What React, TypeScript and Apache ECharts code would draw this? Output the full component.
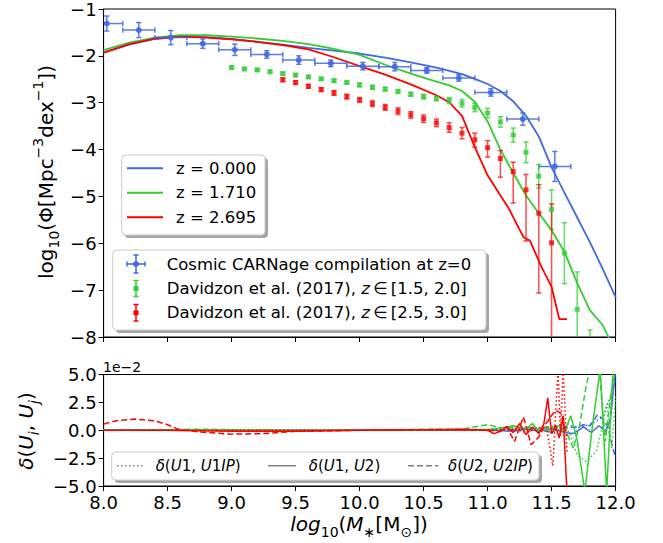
import React, { useEffect, useRef } from "react";
import * as echarts from "echarts";

const BLUE = "#4169E1";
const GREEN = "#32CD32";
const RED = "#FF0000";
const FONT = "DejaVu Sans";

// ---- model curves (top panel) ----
const blueLineX = [8.0, 8.2, 8.4, 8.6, 8.8, 9.0, 9.2, 9.4, 9.6, 9.8, 10.0, 10.2, 10.4, 10.6, 10.8, 10.9, 11.0, 11.1, 11.2, 11.3, 11.4, 11.5, 11.6, 11.7, 11.8, 11.9, 12.0];
const blueLineY = [-1.93, -1.76, -1.64, -1.59, -1.6, -1.64, -1.7, -1.76, -1.83, -1.89, -1.95, -2.04, -2.14, -2.25, -2.39, -2.49, -2.6, -2.75, -2.97, -3.28, -3.72, -4.38, -4.92, -5.45, -5.98, -6.55, -7.15];

const greenLineX = [8.0, 8.2, 8.4, 8.6, 8.8, 9.0, 9.2, 9.4, 9.6, 9.8, 10.0, 10.2, 10.4, 10.6, 10.7, 10.8, 10.9, 11.0, 11.1, 11.2, 11.3, 11.4, 11.5, 11.6, 11.7, 11.8, 11.9, 11.97];
const greenLineY = [-1.88, -1.72, -1.61, -1.56, -1.56, -1.59, -1.63, -1.68, -1.75, -1.85, -1.98, -2.19, -2.38, -2.55, -2.63, -2.75, -2.98, -3.4, -4.0, -4.5, -4.98, -5.36, -5.72, -6.18, -6.85, -7.43, -7.75, -8.15];

const redLineX = [8.0, 8.2, 8.4, 8.6, 8.8, 9.0, 9.2, 9.4, 9.6, 9.8, 10.0, 10.2, 10.4, 10.6, 10.7, 10.8, 10.9, 11.0, 11.1, 11.16, 11.22, 11.28, 11.33, 11.42, 11.5, 11.56, 11.62];
const redLineY = [-1.93, -1.75, -1.63, -1.59, -1.61, -1.65, -1.7, -1.77, -1.86, -2.03, -2.22, -2.4, -2.61, -2.84, -2.99, -3.28, -3.95, -4.55, -4.98, -5.23, -5.55, -5.87, -5.94, -6.5, -6.93, -7.62, -7.62];

// ---- observations ----
const carnageX = [8.025, 8.275, 8.525, 8.775, 9.025, 9.275, 9.525, 9.775, 10.025, 10.275, 10.525, 10.775, 11.025, 11.275, 11.525];
const carnageY = [-1.31, -1.45, -1.61, -1.74, -1.87, -1.97, -2.09, -2.16, -2.22, -2.23, -2.31, -2.47, -2.78, -3.35, -4.36];
const carnageYErr = [0.16, 0.16, 0.15, 0.1, 0.12, 0.08, 0.09, 0.07, 0.08, 0.09, 0.06, 0.07, 0.08, 0.13, 0.32];
const carnageXErr = 0.125;

const davG_X = [9.0, 9.1, 9.2, 9.3, 9.4, 9.5, 9.6, 9.7, 9.8, 9.9, 10.0, 10.1, 10.2, 10.3, 10.4, 10.5, 10.6, 10.7, 10.8, 10.9, 11.0, 11.1, 11.2, 11.3, 11.4, 11.5, 11.6, 11.7, 11.8];
const davG_Y = [-2.25, -2.28, -2.3, -2.34, -2.38, -2.41, -2.45, -2.49, -2.53, -2.57, -2.62, -2.67, -2.71, -2.76, -2.82, -2.87, -2.91, -2.95, -3.01, -3.1, -3.22, -3.41, -3.69, -4.06, -4.57, -5.28, -6.21, -7.41, -8.7];
const davG_Err = [0.03, 0.03, 0.03, 0.03, 0.03, 0.03, 0.03, 0.03, 0.03, 0.03, 0.04, 0.04, 0.04, 0.04, 0.04, 0.05, 0.05, 0.06, 0.08, 0.09, 0.1, 0.11, 0.15, 0.22, 0.25, 0.42, 0.65, 0.8, 0.85];

const davR_X = [9.4, 9.5, 9.6, 9.7, 9.8, 9.9, 10.0, 10.1, 10.2, 10.3, 10.4, 10.5, 10.6, 10.7, 10.8, 10.9, 11.0, 11.1, 11.2, 11.3, 11.4, 11.5];
const davR_Y = [-2.51, -2.57, -2.65, -2.72, -2.79, -2.87, -2.94, -3.02, -3.1, -3.18, -3.26, -3.34, -3.43, -3.53, -3.65, -3.79, -3.96, -4.19, -4.47, -4.86, -5.36, -5.99];
const davR_Lo = [-2.55, -2.61, -2.69, -2.76, -2.84, -2.92, -2.99, -3.08, -3.16, -3.25, -3.33, -3.42, -3.51, -3.63, -3.77, -3.95, -4.16, -4.59, -5.14, -5.95, -7.06, -9.0];
const davR_Hi = [-2.47, -2.53, -2.61, -2.68, -2.74, -2.82, -2.89, -2.96, -3.04, -3.11, -3.19, -3.26, -3.35, -3.43, -3.53, -3.65, -3.81, -4.02, -4.27, -4.53, -4.75, -5.16];

// ---- residuals (bottom panel, units of 1e-2) ----
const resBlueDotted = [[8, 0], [9, 0], [10, 0], [11, 0], [11.3, 0.05], [11.5, 0.3], [11.6, 0.6], [11.7, 0.2], [11.8, 0.5], [11.9, 1.2], [11.96, 3.0], [12, 4.5]];
const resBlueSolid = [[8, 0], [9, 0], [10, 0], [11, 0.05], [11.2, -0.1], [11.3, 0.1], [11.4, -0.1], [11.5, 0.15], [11.6, -0.2], [11.67, -0.3], [11.75, 0.3], [11.81, -0.2], [11.87, 0.4], [11.92, -0.1], [11.96, 1.0], [12.0, 5.5]];
const resBlueDashed = [[8, 0], [9, 0], [10, 0], [11, 0], [11.3, 0.1], [11.5, -0.15], [11.6, 0.2], [11.7, 0.3], [11.75, 0.5], [11.8, 0.4], [11.86, 1.4], [11.9, 1.0], [11.94, 0.3], [11.97, -1.2], [12, -2.5]];

const resGreenDotted = [[8, 0], [9, -0.05], [10, 0], [11, 0.1], [11.3, 0.2], [11.5, 0.2], [11.6, 0.5], [11.65, -0.5], [11.7, -2.2], [11.77, -2.8], [11.85, -1.9], [11.9, 0.5], [11.93, 2.4], [11.97, -1.6], [12, 3]];
const resGreenSolid = [[8, 0], [9, 0], [10, 0], [11, 0.05], [11.1, 0.2], [11.2, 0.4], [11.3, 0.1], [11.35, 0.6], [11.4, -0.2], [11.45, 0.3], [11.5, -0.3], [11.55, 0.4], [11.6, -0.2], [11.65, 1.3], [11.7, -0.9], [11.76, -5.5], [11.82, 0.5], [11.88, 5.5], [11.93, -5.5], [11.98, 5.5]];
const resGreenDashed = [[8, 0], [8.5, 0.05], [8.75, 0.1], [9, 0.05], [9.5, -0.05], [10, 0], [10.5, 0.1], [10.8, 0.1], [10.95, 0.4], [11.0, 0.5], [11.05, 0.35], [11.1, 0.2], [11.3, 0.3], [11.4, 0.1], [11.5, 0.4], [11.55, 0.2], [11.62, -0.3], [11.67, -1.6], [11.72, 0.5], [11.77, 4.0], [11.81, 5.8], [11.87, 5.8], [11.92, -1.0], [11.96, 3], [12, 5.5]];

const resRedDotted = [[8, 0], [9, 0], [10, 0], [11, 0], [11.2, 0.1], [11.3, -0.2], [11.4, 0.2], [11.46, 0.3], [11.51, -3.2], [11.55, 5.5], [11.57, -0.5], [11.59, 5.5], [11.62, -2]];
const resRedSolid = [[8, 0], [8.5, 0], [8.75, -0.05], [9, -0.1], [9.5, -0.1], [10, 0], [10.5, 0.05], [10.8, 0.1], [11.0, 0], [11.05, -0.3], [11.1, -0.1], [11.15, 0.3], [11.2, -0.2], [11.25, 0.6], [11.3, -0.4], [11.35, 0.3], [11.4, -0.3], [11.44, 0.6], [11.47, 2.9], [11.5, -0.3], [11.53, 0.4], [11.56, -0.7], [11.59, 1.3], [11.62, -5.5]];
const resRedDashed = [[8, 0.55], [8.1, 0.85], [8.25, 1.0], [8.4, 0.85], [8.5, 0.5], [8.58, 0.1], [8.75, -0.15], [9, -0.35], [9.25, -0.3], [9.5, -0.1], [10, 0], [10.5, 0.05], [11.0, 0], [11.1, -0.1], [11.15, 0.3], [11.21, -1.0], [11.28, 1.2], [11.34, -1.3], [11.4, -0.6], [11.45, 0.5], [11.53, 1.8], [11.58, 1.5], [11.62, -0.5]];

const xTicks = { min: 8, max: 12, interval: 0.5 };

function errRenderer(color: string, withX: boolean) {
  return (params: any, api: any) => {
    const cs = params.coordSys;
    const top = cs.y, bot = cs.y + cs.height, left = cs.x, right = cs.x + cs.width;
    const cy = (v: number) => Math.max(top, Math.min(bot, v));
    const cx = (v: number) => Math.max(left, Math.min(right, v));
    const x = api.value(0);
    const lo = api.value(2), hi = api.value(3);
    const pLo = api.coord([x, lo]);
    const pHi = api.coord([x, hi]);
    const px = pLo[0];
    const style = { stroke: color, lineWidth: 1.5 };
    const ch: any[] = [];
    const y1 = cy(pHi[1]), y2 = cy(pLo[1]);
    if (y2 > y1) ch.push({ type: "line", shape: { x1: px, y1, x2: px, y2 }, style });
    const cap = 2.6;
    if (pHi[1] >= top && pHi[1] <= bot) ch.push({ type: "line", shape: { x1: px - cap, y1: pHi[1], x2: px + cap, y2: pHi[1] }, style });
    if (pLo[1] >= top && pLo[1] <= bot) ch.push({ type: "line", shape: { x1: px - cap, y1: pLo[1], x2: px + cap, y2: pLo[1] }, style });
    if (withX) {
      const y = api.value(1);
      const pl = api.coord([api.value(4), y]);
      const pr = api.coord([api.value(5), y]);
      const py = pl[1];
      ch.push({ type: "line", shape: { x1: cx(pl[0]), y1: py, x2: cx(pr[0]), y2: py }, style });
      if (pl[0] >= left) ch.push({ type: "line", shape: { x1: pl[0], y1: py - cap, x2: pl[0], y2: py + cap }, style });
      if (pr[0] <= right) ch.push({ type: "line", shape: { x1: pr[0], y1: py - cap, x2: pr[0], y2: py + cap }, style });
    }
    return { type: "group", children: ch };
  };
}

function legendBox(x: number, y: number, w: number, h: number) {
  return [
    { type: "rect", shape: { x: x + 3, y: y + 3, width: w, height: h, r: 4 }, style: { fill: "rgba(0,0,0,0.35)" }, z: 100 },
    { type: "rect", shape: { x, y, width: w, height: h, r: 4 }, style: { fill: "#fff", stroke: "#cccccc", lineWidth: 1 }, z: 101 },
  ];
}

function txt(x: number, y: number, text: string, size: number, rich?: any, extra?: any, el?: any) {
  return Object.assign({
    type: "text", x, y, z: 102,
    style: Object.assign({ text, fontSize: size, fontFamily: FONT, fill: "#000", align: "left", verticalAlign: "middle", rich }, extra || {}),
  }, el || {});
}

function seg(x1: number, y1: number, x2: number, y2: number, stroke: string, lineWidth: number, lineDash?: any) {
  return { type: "line", z: 102, shape: { x1, y1, x2, y2 }, style: { stroke, lineWidth, lineDash } };
}

export default function App() {
  const ref = useRef<HTMLDivElement>(null);
  useEffect(() => {
    document.body.style.margin = "0";
    const chart = echarts.init(ref.current!, null, { renderer: "svg" });
    const axisLineStyle = { color: "#000", width: 1 };
    const xBase = (gi: number, showLabel: boolean) => ({
      gridIndex: gi, type: "value", ...xTicks,
      axisLine: { show: true, onZero: false, lineStyle: axisLineStyle },
      axisTick: { show: true, length: 5, lineStyle: axisLineStyle },
      splitLine: { show: false },
      axisLabel: { show: showLabel, fontSize: 18, fontFamily: FONT, color: "#000", margin: 7, formatter: (v: number) => v.toFixed(1), showMinLabel: true, showMaxLabel: true },
    });
    const yBase = (gi: number, min: number, max: number, interval: number, fmt: (v: number) => string) => ({
      gridIndex: gi, type: "value", min, max, interval,
      axisLine: { show: true, onZero: false, lineStyle: axisLineStyle },
      axisTick: { show: true, length: 5, lineStyle: axisLineStyle },
      splitLine: { show: false },
      axisLabel: { fontSize: 18, fontFamily: FONT, color: "#000", margin: 7, formatter: fmt, showMinLabel: true, showMaxLabel: true },
    });
    const line = (xs: number[], ys: number[], color: string) => ({
      type: "line", xAxisIndex: 0, yAxisIndex: 0, data: xs.map((x, i) => [x, ys[i]]),
      showSymbol: false, symbol: "none", lineStyle: { color, width: 1.8 }, clip: true, z: 3,
    });
    const res = (d: number[][], color: string, type: any) => ({
      type: "line", xAxisIndex: 1, yAxisIndex: 1, data: d, showSymbol: false, symbol: "none",
      lineStyle: { color, width: 1.5, type }, clip: true, z: 3,
    });
    const DASH = [6, 3];
    const DOT = [1.5, 2.5];

    const richY = {
      b: { fontSize: 20, fontFamily: FONT, fill: "#000", lineHeight: 30 },
      sub: { fontSize: 14, fontFamily: FONT, fill: "#000", lineHeight: 18, verticalAlign: "bottom" },
      sup: { fontSize: 14, fontFamily: FONT, fill: "#000", lineHeight: 14, verticalAlign: "top" },
    };
    const richX = {
      b: { fontSize: 20, fontFamily: FONT, fill: "#000", lineHeight: 30 },
      i: { fontSize: 20, fontFamily: FONT, fontStyle: "italic", fill: "#000", lineHeight: 30 },
      sub: { fontSize: 14, fontFamily: FONT, fill: "#000", lineHeight: 18, verticalAlign: "bottom" },
      isub: { fontSize: 14, fontFamily: FONT, fontStyle: "italic", fill: "#000", lineHeight: 18, verticalAlign: "bottom" },
    };
    const richL = {
      n: { fontSize: 16.5, fontFamily: FONT, fill: "#000" },
      i: { fontSize: 16.5, fontFamily: FONT, fontStyle: "italic", fill: "#000" },
    };
    const richS = {
      n: { fontSize: 15, fontFamily: FONT, fill: "#000" },
      i: { fontSize: 15, fontFamily: FONT, fontStyle: "italic", fill: "#000" },
    };

    const graphic: any[] = [
      // axis titles
      txt(46, 172, "{b|log}{sub|10}{b|(Φ[Mpc}{sup|−3}{b|dex}{sup|−1}{b|])}", 20, richY, { align: "center" }, { rotation: Math.PI / 2 }),
      txt(26, 431, "{i|δ}{b|(}{i|U}{isub|i}{b|, }{i|U}{isub|j}{b|)}", 20, richX, { align: "center" }, { rotation: Math.PI / 2 }),
      txt(359, 524, "{i|log}{sub|10}{b|(}{i|M}{sub|∗}{b|[M}{sub|⊙}{b|])}", 20, richX, { align: "center" }),
      txt(103, 367, "1e−2", 14),
      // legend 1
      ...legendBox(121.7, 155, 143.3, 80),
      seg(127, 168.3, 163, 168.3, BLUE, 2),
      seg(127, 192.7, 163, 192.7, GREEN, 2),
      seg(127, 217.2, 163, 217.2, RED, 2),
      txt(176, 168.3, "z = 0.000", 16.5),
      txt(176, 192.7, "z = 1.710", 16.5),
      txt(176, 217.2, "z = 2.695", 16.5),
      // legend 2
      ...legendBox(112.7, 250, 373.3, 80),
      seg(127, 264, 145, 264, BLUE, 1.5), seg(136, 255, 136, 273, BLUE, 1.5),
      seg(127, 261.4, 127, 266.6, BLUE, 1.5), seg(145, 261.4, 145, 266.6, BLUE, 1.5),
      seg(133.4, 255, 138.6, 255, BLUE, 1.5), seg(133.4, 273, 138.6, 273, BLUE, 1.5),
      { type: "circle", z: 103, shape: { cx: 136, cy: 264, r: 3 }, style: { fill: BLUE } },
      seg(136, 280.5, 136, 296.5, GREEN, 1.5), seg(133.4, 280.5, 138.6, 280.5, GREEN, 1.5), seg(133.4, 296.5, 138.6, 296.5, GREEN, 1.5),
      { type: "rect", z: 103, shape: { x: 133.5, y: 286, width: 5, height: 5 }, style: { fill: GREEN } },
      seg(136, 304.5, 136, 321, RED, 1.5), seg(133.4, 304.5, 138.6, 304.5, RED, 1.5), seg(133.4, 321, 138.6, 321, RED, 1.5),
      { type: "rect", z: 103, shape: { x: 133.5, y: 310.3, width: 5, height: 5 }, style: { fill: RED } },
      txt(166.7, 264, "Cosmic CARNage compilation at z=0", 16.5),
      txt(166.7, 288.3, "{n|Davidzon et al. (2017), }{i|z}{n|\u2009∈\u2009[1.5, 2.0]}", 16.5, richL),
      txt(166.7, 312.5, "{n|Davidzon et al. (2017), }{i|z}{n|\u2009∈\u2009[2.5, 3.0]}", 16.5, richL),
      // legend 3
      ...legendBox(111.7, 452, 427.3, 28),
      seg(117, 465.7, 144, 465.7, "#808080", 1.5, DOT),
      seg(268, 465.7, 296, 465.7, "#808080", 1.5),
      seg(408, 465.7, 438, 465.7, "#808080", 1.5, DASH),
      txt(155.7, 465.7, "{i|δ}{n|(}{i|U}{n|1, }{i|U}{n|1}{i|IP}{n|)}", 15, richS),
      txt(308.8, 465.7, "{i|δ}{n|(}{i|U}{n|1, }{i|U}{n|2}{n|)}", 15, richS),
      txt(448, 465.7, "{i|δ}{n|(}{i|U}{n|2, }{i|U}{n|2}{i|IP}{n|)}", 15, richS),
    ];

    const option: any = {
      animation: false,
      backgroundColor: "#fff",
      grid: [
        { left: 103.6, top: 8, width: 512, height: 329, show: true, borderColor: "#000", borderWidth: 1, backgroundColor: "transparent" },
        { left: 103.6, top: 374.5, width: 512, height: 111.5, show: true, borderColor: "#000", borderWidth: 1, backgroundColor: "transparent" },
      ],
      xAxis: [xBase(0, false), xBase(1, true)],
      yAxis: [
        yBase(0, -8, -1, 1, (v: number) => String(v).replace("-", "−")),
        yBase(1, -5, 5, 2.5, (v: number) => v.toFixed(1).replace("-", "−")),
      ],
      series: [
        line(blueLineX, blueLineY, BLUE),
        line(greenLineX, greenLineY, GREEN),
        line(redLineX, redLineY, RED),
        {
          type: "custom", xAxisIndex: 0, yAxisIndex: 0, z: 4,
          renderItem: errRenderer("rgba(65,105,225,0.85)", true),
          encode: { x: 0, y: 1 },
          data: carnageX.map((x, i) => [x, carnageY[i], carnageY[i] - carnageYErr[i], carnageY[i] + carnageYErr[i], x - carnageXErr, x + carnageXErr]),
        },
        {
          type: "custom", xAxisIndex: 0, yAxisIndex: 0, z: 4,
          renderItem: errRenderer("rgba(50,205,50,0.75)", false),
          encode: { x: 0, y: 1 },
          data: davG_X.map((x, i) => [x, davG_Y[i], davG_Y[i] - davG_Err[i], davG_Y[i] + davG_Err[i]]),
        },
        {
          type: "custom", xAxisIndex: 0, yAxisIndex: 0, z: 4,
          renderItem: errRenderer("rgba(255,0,0,0.7)", false),
          encode: { x: 0, y: 1 },
          data: davR_X.map((x, i) => [x, davR_Y[i], davR_Lo[i], davR_Hi[i]]),
        },
        { type: "scatter", xAxisIndex: 0, yAxisIndex: 0, z: 5, clip: true, symbol: "circle", symbolSize: 6, itemStyle: { color: BLUE, opacity: 0.9 }, data: carnageX.map((x, i) => [x, carnageY[i]]) },
        { type: "scatter", xAxisIndex: 0, yAxisIndex: 0, z: 5, clip: true, symbol: "rect", symbolSize: 5, itemStyle: { color: GREEN }, data: davG_X.map((x, i) => [x, davG_Y[i]]) },
        { type: "scatter", xAxisIndex: 0, yAxisIndex: 0, z: 5, clip: true, symbol: "rect", symbolSize: 5, itemStyle: { color: RED }, data: davR_X.map((x, i) => [x, davR_Y[i]]) },
        res(resBlueDotted, BLUE, DOT),
        res(resBlueSolid, BLUE, "solid"),
        res(resBlueDashed, BLUE, DASH),
        res(resGreenDotted, GREEN, DOT),
        res(resGreenSolid, GREEN, "solid"),
        res(resGreenDashed, GREEN, DASH),
        res(resRedDotted, RED, DOT),
        res(resRedSolid, RED, "solid"),
        res(resRedDashed, RED, DASH),
      ],
      graphic,
    };
    chart.setOption(option);
    return () => chart.dispose();
  }, []);
  return <div ref={ref} style={{ position: "fixed", left: 0, top: 0, width: 663, height: 543 }} />;
}
